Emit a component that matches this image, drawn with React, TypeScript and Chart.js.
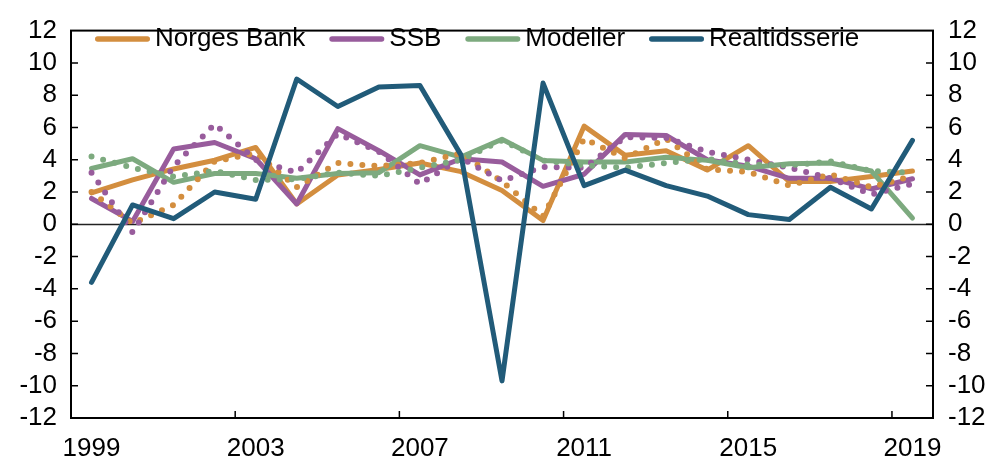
import { useEffect, useRef } from "react";
import { Chart, registerables } from "chart.js";

Chart.register(...registerables);

const years = [1999, 2000, 2001, 2002, 2003, 2004, 2005, 2006, 2007, 2008, 2009, 2010, 2011, 2012, 2013, 2014, 2015, 2016, 2017, 2018, 2019];
const labelYears = [1999, 2003, 2007, 2011, 2015, 2019];
const xTickMarks = [2002.5, 2006.5, 2010.5, 2014.5, 2018.5];
const yTickValues = [-12, -10, -8, -6, -4, -2, 0, 2, 4, 6, 8, 10, 12];

const legendLabels = ["Norges Bank", "SSB", "Modeller", "Realtidsserie"];

const norgesBank = [1.95, 2.75, 3.43, 3.97, 4.76, 1.26, 3.05, 3.4, 3.8, 3.26, 2.1, 0.24, 6.08, 4.28, 4.55, 3.36, 4.87, 2.65, 2.65, 2.96, 3.3];
const ssb = [1.6, 0.18, 4.66, 5.07, 4.06, 1.26, 5.93, 4.56, 3.06, 4.06, 3.86, 2.35, 3.1, 5.57, 5.5, 4.0, 3.6, 2.85, 2.85, 2.19, 2.82];
const modeller = [3.46, 4.06, 2.6, 3.15, 3.15, 2.85, 3.15, 3.2, 4.87, 4.16, 5.27, 3.96, 3.86, 3.86, 4.16, 3.96, 3.5, 3.75, 3.8, 3.3, 0.38];
const realtid = [-3.6, 1.2, 0.35, 2.0, 1.55, 9.0, 7.3, 8.5, 8.6, 4.3, -9.7, 8.75, 2.4, 3.36, 2.4, 1.75, 0.6, 0.3, 2.3, 0.95, 5.2];

const norgesBankDotted = [2.0, 0.05, 1.2, 3.9, 4.4, 2.3, 3.8, 3.6, 3.8, 4.4, 2.65, 0.5, 5.3, 4.1, 5.3, 3.4, 3.25, 2.4, 3.1, 2.3, 3.0];
const ssbDotted = [3.2, -0.5, 3.6, 6.2, 4.0, 3.2, 5.6, 4.5, 2.5, 4.1, 2.7, 3.55, 3.5, 5.4, 5.35, 4.5, 4.0, 3.5, 2.85, 1.85, 2.5];
const modellerDotted = [4.2, 3.5, 2.95, 3.3, 2.75, 2.8, 3.2, 3.0, 3.5, 4.0, 5.2, 3.95, 3.65, 3.5, 3.8, 4.05, 3.7, 3.65, 3.9, 3.3, 3.2];

const ORANGE = "#D38E3F";
const PURPLE = "#985C9C";
const GREEN = "#7DAA7F";
const BLUE = "#215B79";
const legendColors = [ORANGE, PURPLE, GREEN, BLUE];

const FONT_FAMILY = "'Liberation Sans', Arial, Helvetica, sans-serif";
const FONT_SIZE = 26;

const pts = (vals: number[]) => vals.map((v, i) => ({ x: years[i], y: v }));

const framePlugin = {
  id: "frame",
  beforeDatasetsDraw(chart: any) {
    const { ctx, chartArea: a, scales } = chart;
    const y0 = Math.round(scales.y.getPixelForValue(0)) + 0.5;
    ctx.save();
    ctx.strokeStyle = "#222";
    ctx.lineWidth = 1.3;
    ctx.beginPath();
    ctx.moveTo(a.left, y0);
    ctx.lineTo(a.right, y0);
    ctx.stroke();
    ctx.restore();
  },
  afterDatasetsDraw(chart: any) {
    const { ctx, chartArea: a, scales } = chart;
    ctx.save();
    ctx.strokeStyle = "#000";
    ctx.lineWidth = 2;
    ctx.strokeRect(a.left, a.top, a.right - a.left, a.bottom - a.top);
    ctx.lineWidth = 1.5;
    ctx.beginPath();
    for (const v of yTickValues) {
      if (v === -12 || v === 12) continue;
      const py = scales.y.getPixelForValue(v);
      ctx.moveTo(a.left, py);
      ctx.lineTo(a.left + 7, py);
      ctx.moveTo(a.right, py);
      ctx.lineTo(a.right - 7, py);
    }
    for (const xv of xTickMarks) {
      const px = scales.x.getPixelForValue(xv);
      ctx.moveTo(px, a.bottom);
      ctx.lineTo(px, a.bottom - 7);
    }
    ctx.stroke();
    ctx.restore();
  },
  afterDraw(chart: any) {
    const { ctx, chartArea: a } = chart;
    ctx.save();
    ctx.font = `${FONT_SIZE}px ${FONT_FAMILY}`;
    ctx.textBaseline = "middle";
    ctx.textAlign = "left";
    let x = a.left + 24;
    const y = 39;
    legendLabels.forEach((label, i) => {
      ctx.strokeStyle = legendColors[i];
      ctx.lineWidth = 5.5;
      ctx.lineCap = "round";
      ctx.beginPath();
      ctx.moveTo(x + 2.75, y);
      ctx.lineTo(x + 52.25, y);
      ctx.stroke();
      ctx.fillStyle = "#000";
      ctx.fillText(label, x + 60, y - 0.5);
      x += 60 + ctx.measureText(label).width + 24;
    });
    ctx.restore();
  },
};

export default function App() {
  const ref = useRef<HTMLCanvasElement>(null);
  useEffect(() => {
    if (!ref.current) return;
    const font = { family: FONT_FAMILY, size: FONT_SIZE };
    const solid = (label: string, data: number[], color: string, order: number) => ({
      label,
      data: pts(data),
      borderColor: color,
      backgroundColor: color,
      borderWidth: 5,
      borderCapStyle: "round" as const,
      borderJoinStyle: "round" as const,
      pointRadius: 0,
      fill: false,
      tension: 0,
      order,
    });
    const dotted = (label: string, data: number[], color: string, order: number) => ({
      ...solid(label, data, color, order),
      borderDash: [0, 12],
      borderWidth: 6,
    });
    const yTicks = { callback: (v: any) => String(v), font, color: "#000", autoSkip: false };
    const chart = new Chart(ref.current, {
      type: "line",
      data: {
        datasets: [
          solid("Realtidsserie", realtid, BLUE, 0),
          dotted("Modeller (dotted)", modellerDotted, GREEN, 1),
          dotted("SSB (dotted)", ssbDotted, PURPLE, 2),
          dotted("Norges Bank (dotted)", norgesBankDotted, ORANGE, 3),
          solid("Modeller", modeller, GREEN, 4),
          solid("SSB", ssb, PURPLE, 5),
          solid("Norges Bank", norgesBank, ORANGE, 6),
        ] as any,
      },
      options: {
        animation: false,
        responsive: false,
        maintainAspectRatio: false,
        layout: { padding: { top: 20, right: 0, bottom: 0, left: 0 } },
        plugins: {
          legend: { display: false },
          tooltip: { enabled: false },
        },
        scales: {
          x: {
            type: "linear",
            min: 1998.5,
            max: 2019.5,
            afterBuildTicks: (s: any) => {
              s.ticks = labelYears.map((v) => ({ value: v }));
            },
            afterFit: (s: any) => {
              s.height = 48;
            },
            ticks: {
              callback: (v: any) => String(v),
              font,
              color: "#000",
              padding: 15,
              maxRotation: 0,
              autoSkip: false,
            },
            grid: { display: false, drawTicks: false },
            border: { display: false },
          },
          y: {
            position: "left",
            min: -12,
            max: 12,
            afterBuildTicks: (s: any) => {
              s.ticks = yTickValues.map((v) => ({ value: v }));
            },
            afterFit: (s: any) => {
              s.width = 71;
            },
            ticks: { ...yTicks, padding: 14 },
            grid: { display: false, drawTicks: false },
            border: { display: false },
          },
          y2: {
            position: "right",
            min: -12,
            max: 12,
            afterBuildTicks: (s: any) => {
              s.ticks = yTickValues.map((v) => ({ value: v }));
            },
            afterFit: (s: any) => {
              s.width = 65;
            },
            ticks: { ...yTicks, padding: 15 },
            grid: { display: false, drawTicks: false },
            border: { display: false },
          },
        },
      } as any,
      plugins: [framePlugin],
    });
    return () => chart.destroy();
  }, []);
  return (
    <div style={{ position: "absolute", left: 0, top: 0, width: 998, height: 466, background: "#fff" }}>
      <canvas ref={ref} width={998} height={466} style={{ display: "block", width: 998, height: 466 }} />
    </div>
  );
}
